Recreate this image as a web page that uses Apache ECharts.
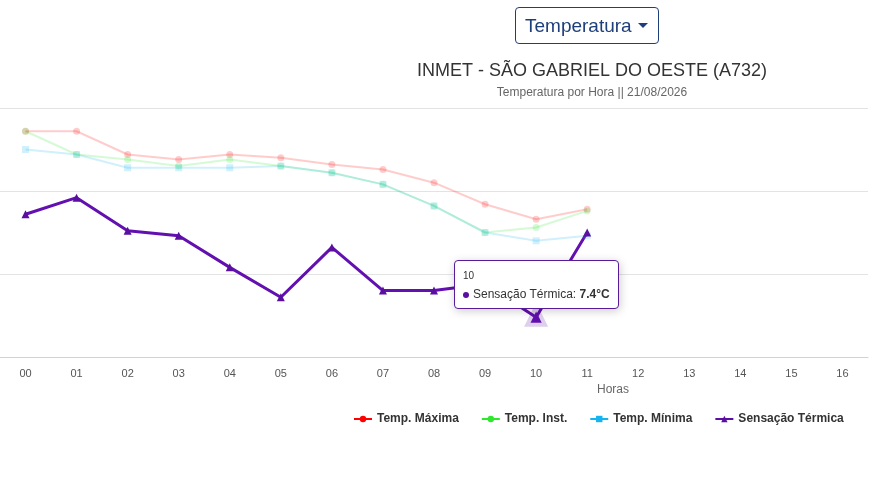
<!DOCTYPE html>
<html>
<head>
<meta charset="UTF-8"/>
<title>INMET - Temperatura</title>
<script src="https://cdn.jsdelivr.net/npm/echarts@6/dist/echarts.min.js"></script>
<style>
    body { margin: 0; background: #fff; font-family: "Liberation Sans", Arial, sans-serif; }
    #sel { position: absolute; left: 515px; top: 7px; width: 144px; height: 37px; border: 1px solid #1f3f7a;
           border-radius: 4px; box-sizing: border-box; color: #1f3f7a; font-size: 19px; line-height: 35px; padding-left: 9px; }
    #sel:after { content: ""; position: absolute; right: 10px; top: 15px; border: 5px solid transparent; border-top-color: #1f3f7a; }
    #chart { position: absolute; left: 0; top: 0; width: 874px; height: 492px; }
</style>
</head>
<body>
<div id="chart"></div>
<div id="sel">Temperatura</div>
<script>
    const horas = ["00","01","02","03","04","05","06","07","08","09","10","11","12","13","14","15","16"];
    const tempMax = [18.6,18.6,17.2,16.9,17.2,17.0,16.6,16.3,15.5,14.2,13.3,13.9];
    const tempInst = [18.6,17.2,16.9,16.5,16.9,16.5,16.1,15.4,14.1,12.5,12.8,13.8];
    const tempMin = [17.5,17.2,16.4,16.4,16.4,16.5,16.1,15.4,14.1,12.5,12.0,12.3];
    const sensacao = [13.6,14.6,12.6,12.3,10.4,8.6,11.6,9.0,9.0,9.4,7.4,12.5];

    const chart = echarts.init(document.getElementById("chart"));
    function faded(name, data, color, symbol) {
        return {
            name: name, type: "line", data: data, symbol: symbol, symbolSize: 7,
            itemStyle: {color: color, opacity: 0.2},
            lineStyle: {color: color, opacity: 0.2, width: 2},
            emphasis: {disabled: true}
        };
    }
    chart.setOption({
        animation: false,
        title: {
            text: "INMET - SÃO GABRIEL DO OESTE (A732)",
            subtext: "Temperatura por Hora || 21/08/2026",
            left: 587, top: 57, textAlign: "center", itemGap: 7,
            textStyle: {fontSize: 18, fontWeight: "normal", color: "#333"},
            subtextStyle: {fontSize: 12, color: "#666"}
        },
        tooltip: {
            trigger: "item", borderColor: "#5a1a9a", borderWidth: 1, padding: [5, 8],
            position: [454, 260],
            textStyle: {fontSize: 12, color: "#333"},
            formatter: function (p) {
                return '<span style="font-size:10px">' + p.name + '</span><br/>' +
                    '<span style="display:inline-block;width:6px;height:6px;border-radius:3px;background:#5a0fa0;margin-right:4px;vertical-align:middle"></span>' +
                    p.seriesName + ': <b>' + p.value + '°C</b>';
            }
        },
        legend: {
            bottom: 62, left: 348, itemGap: 22, itemWidth: 18, itemHeight: 8,
            textStyle: {fontSize: 12, fontWeight: "bold", color: "#333"},
            data: [
                {name: "Temp. Máxima", itemStyle: {opacity: 1}, lineStyle: {opacity: 1}},
                {name: "Temp. Inst.", itemStyle: {opacity: 1}, lineStyle: {opacity: 1}},
                {name: "Temp. Mínima", itemStyle: {opacity: 1}, lineStyle: {opacity: 1}},
                {name: "Sensação Térmica"}
            ]
        },
        grid: {left: -3, right: 6, top: 108, bottom: 135},
        graphic: [{type: "text", left: 597, top: 384, style: {text: "Horas", fill: "#666", fontSize: 12}}],
        xAxis: {
            type: "category", data: horas, boundaryGap: true,
            axisLine: {lineStyle: {color: "#ccd6cc"}}, axisTick: {show: false},
            axisLabel: {color: "#555", fontSize: 11, margin: 11}
        },
        yAxis: {
            type: "value", min: 5, max: 20, interval: 5,
            axisLabel: {show: false},
            splitLine: {lineStyle: {color: "#e3e3e3"}}
        },
        series: [
            faded("Temp. Máxima", tempMax, "#f00", "circle"),
            faded("Temp. Inst.", tempInst, "#2ee82e", "circle"),
            faded("Temp. Mínima", tempMin, "#14b4f0", "rect"),
            {
                name: "Sensação Térmica", type: "line", data: sensacao, symbol: "triangle", symbolSize: 8,
                itemStyle: {color: "#5a0fa0"}, lineStyle: {color: "#5a0fa0", width: 3},
                emphasis: {scale: 1.4, itemStyle: {borderColor: "rgba(90,15,160,0.2)", borderWidth: 8}}
            }
        ]
    });
    chart.dispatchAction({type: "highlight", seriesIndex: 3, dataIndex: 10});
    chart.dispatchAction({type: "showTip", seriesIndex: 3, dataIndex: 10});
</script>
</body>
</html>
